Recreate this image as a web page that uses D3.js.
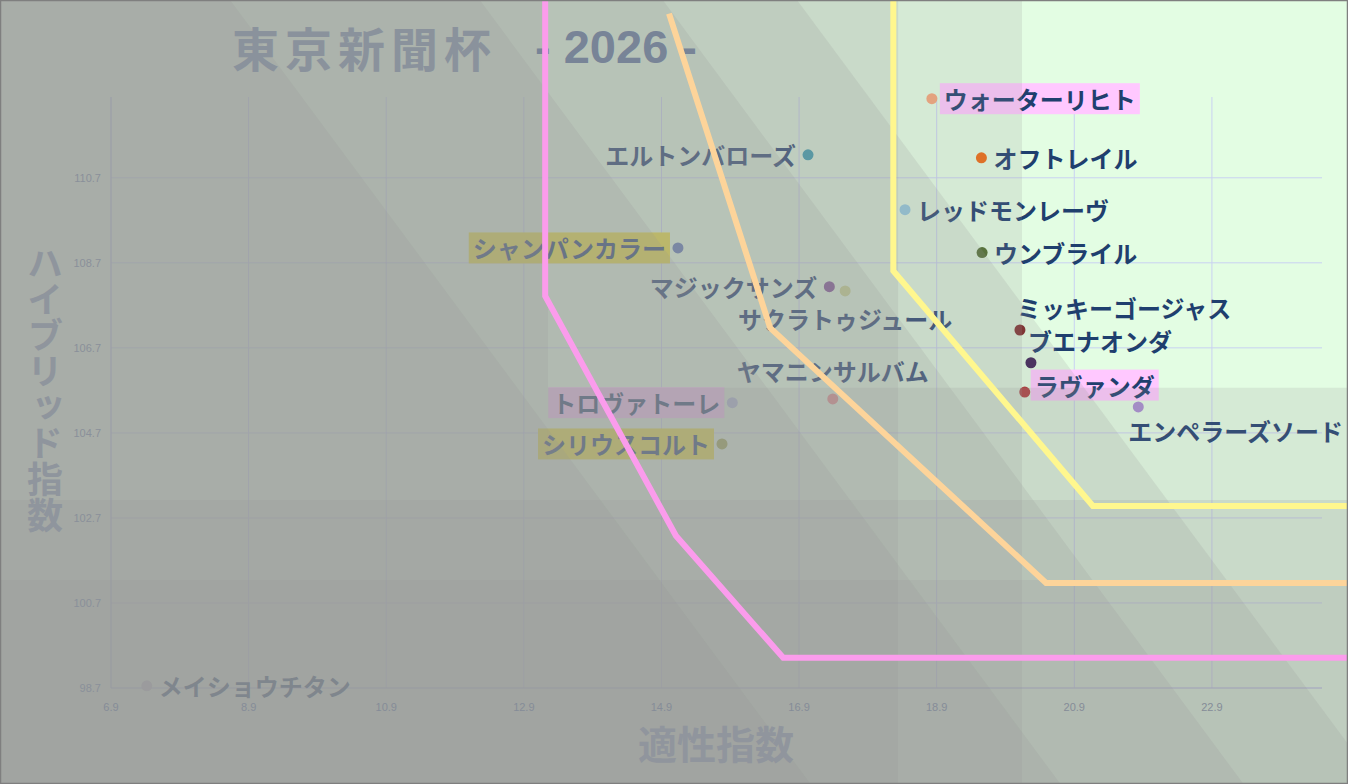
<!DOCTYPE html>
<html><head><meta charset="utf-8">
<script src="https://cdn.jsdelivr.net/npm/d3@7"></script>
<style>html,body{margin:0;padding:0;background:#fff;}svg{display:block;}</style>
</head><body>
<script>
// ---------- data ----------
const xTicks = [6.9, 8.9, 10.9, 12.9, 14.9, 16.9, 18.9, 20.9, 22.9];
const yTicks = [98.7, 100.7, 102.7, 104.7, 106.7, 108.7, 110.7];
const names = ["ウォーターリヒト","オフトレイル","エルトンバローズ","レッドモンレーヴ","ウンブライル","シャンパンカラー","マジックサンズ","サクラトゥジュール","ミッキーゴージャス","ブエナオンダ","ラヴァンダ","エンペラーズソード","ヤマニンサルバム","トロヴァトーレ","シリウスコルト","メイショウチタン"];
const aptitude = [18.83, 19.55, 17.03, 18.44, 19.56, 15.14, 17.34, 17.57, 20.11, 20.27, 20.18, 21.83, 17.39, 15.93, 15.78, 7.42];
const hybrid   = [112.56, 111.17, 111.24, 109.95, 108.94, 109.05, 108.14, 108.04, 107.12, 106.35, 105.66, 105.31, 105.50, 105.41, 104.44, 98.75];
const dotColors = ["#f5a77a","#ee6a10","#2b9bb0","#92cde3","#4b6b2a","#5b78b5","#7d4e94","#c8d890","#7b2020","#3b1f55","#b03030","#a78bd0","#e8908f","#b0bde0","#98a848","#c0c0c8"];
const labelSide = ["right","right","left","right","right","left","left","below","aboveR","aboveR","rightUp","belowR","above","left","left","right"];
const highlight = ["pink",null,null,null,null,"yellow",null,null,null,null,"pink",null,null,"pink","yellow",null];
// threshold lines
const pinkLine   = [[13.21,115.0],[13.21,107.92],[15.11,102.28],[16.67,99.41],[25.0,99.41]];
const orangeLine = [[15.01,114.56],[16.48,107.17],[20.49,101.17],[25.0,101.17]];
const yellowLine = [[18.27,115.0],[18.27,108.51],[21.17,102.98],[25.0,102.98]];
// background shading zones (data coordinates)
const X0 = 5.2, X1 = 25.0, Y0 = 96.3, Y1 = 115.0;
const shadeZones = [
  [[X0,Y1],[20.14,Y1],[20.14,Y0],[X0,Y0]],
  [[X0,Y1],[18.34,Y1],[18.34,Y0],[X0,Y0]],
  [[X0,Y1],[13.25,Y1],[13.25,Y0],[X0,Y0]],
  [[13.25,105.76],[X1,105.76],[X1,Y0],[13.25,Y0]],
  [[X0,103.12],[X1,103.12],[X1,Y0],[X0,Y0]],
  [[X0,101.24],[X1,101.24],[X1,Y0],[X0,Y0]],
  [[X0,Y1],[8.63,114.88],[17.07,96.44],[X0,Y0]],
  [[X0,Y1],[12.26,114.88],[20.70,96.44],[X0,Y0]],
  [[X0,Y1],[14.92,114.88],[23.36,96.44],[X0,Y0]],
  [[X0,Y1],[16.87,114.88],[25.31,96.44],[X0,Y0]]
];

// ---------- drawing ----------
const W = 1348, H = 784;
const svg = d3.select("body").append("svg").attr("width", W).attr("height", H);
const x = d3.scaleLinear().domain([6.9, 24.5]).range([111, 1322]);
const y = d3.scaleLinear().domain([98.7, 112.6]).range([688, 97]);

svg.append("rect").attr("width", W).attr("height", H).attr("fill", "#e3fde3");

// grid
const grid = svg.append("g");
grid.selectAll("line.v").data(xTicks).join("line")
  .attr("x1", d => x(d)).attr("x2", d => x(d)).attr("y1", y(112.6)).attr("y2", y(98.7))
  .attr("stroke", "#c9d1f2").attr("stroke-width", 1);
grid.selectAll("line.h").data(yTicks).join("line")
  .attr("x1", x(6.9)).attr("x2", x(24.5)).attr("y1", d => y(d)).attr("y2", d => y(d))
  .attr("stroke", "#c9d1f2").attr("stroke-width", 1);
svg.append("line").attr("x1", x(6.9)).attr("x2", x(6.9)).attr("y1", y(112.6)).attr("y2", y(98.7)).attr("stroke", "#b8c0dc");
svg.append("line").attr("x1", x(6.9)).attr("x2", x(24.5)).attr("y1", y(98.7)).attr("y2", y(98.7)).attr("stroke", "#b8c0dc");

// points + labels
const pts = names.map((n, i) => ({n, x: aptitude[i], y: hybrid[i], c: dotColors[i], side: labelSide[i], hl: highlight[i]}));
const lblG = svg.append("g");
const boxG = lblG.append("g");
const txtG = lblG.append("g");
pts.forEach(p => {
  const px = x(p.x), py = y(p.y);
  let tx = px + 12, ty = py, anchor = "start";
  if (p.side === "left") { tx = px - 12; anchor = "end"; }
  else if (p.side === "below") { tx = px; ty = py + 28; anchor = "middle"; }
  else if (p.side === "above") { tx = px; ty = py - 28; anchor = "middle"; }
  else if (p.side === "aboveR") { tx = px - 3; ty = py - 22; }
  else if (p.side === "belowR") { tx = px - 10; ty = py + 24; }
  else if (p.side === "rightUp") { tx = px + 10; ty = py - 7; }
  const t = txtG.append("text").attr("x", tx).attr("y", ty)
    .attr("text-anchor", anchor).attr("dominant-baseline", "central")
    .attr("font-family", "'Noto Sans CJK JP', sans-serif").attr("font-weight", "bold")
    .attr("font-size", 24).attr("fill", "#1f3f6e").text(p.n);
  if (p.hl) {
    const b = t.node().getBBox();
    boxG.append("rect").attr("x", b.x - 4).attr("y", b.y + 2).attr("width", b.width + 8).attr("height", b.height - 4)
      .attr("fill", p.hl === "pink" ? "#ffc8ff" : "#ece23a");
  }
});
svg.append("g").selectAll("circle").data(pts).join("circle")
  .attr("cx", d => x(d.x)).attr("cy", d => y(d.y)).attr("r", 5.5).attr("fill", d => d.c);

// shading overlays
svg.append("g").selectAll("path").data(shadeZones).join("path")
  .attr("d", d => "M" + d.map(q => x(q[0]) + "," + y(q[1])).join("L") + "Z")
  .attr("fill", "rgb(150,152,148)").attr("fill-opacity", 0.18);

// tick labels
svg.append("g").selectAll("text").data(xTicks).join("text")
  .attr("x", d => x(d)).attr("y", 707).attr("text-anchor", "middle").attr("dominant-baseline", "central")
  .attr("font-family", "'Liberation Sans Narrow', 'Liberation Sans', sans-serif").attr("font-size", 11)
  .attr("fill", "#858c98").text(d => d.toFixed(1));
svg.append("g").selectAll("text").data(yTicks).join("text")
  .attr("x", 101).attr("y", d => y(d)).attr("text-anchor", "end").attr("dominant-baseline", "central")
  .attr("font-family", "'Liberation Sans Narrow', 'Liberation Sans', sans-serif").attr("font-size", 11)
  .attr("fill", "#8a909a").text(d => d.toFixed(1));

// axis titles
svg.append("text").attr("x", 716).attr("y", 742).attr("text-anchor", "middle").attr("dominant-baseline", "central")
  .attr("font-family", "'Noto Sans CJK JP', sans-serif").attr("font-weight", "bold").attr("font-size", 39)
  .attr("fill", "#90959d").text("適性指数");
svg.append("text").attr("x", 45).attr("y", 245).attr("writing-mode", "vertical-rl")
  .attr("text-anchor", "start")
  .attr("font-family", "'Noto Sans CJK JP', sans-serif").attr("font-weight", "bold").attr("font-size", 36)
  .attr("fill", "#8f959d").text("ハイブリッド指数");

// title
const title = svg.append("text").attr("x", 232).attr("y", 46).attr("dominant-baseline", "central");
title.append("tspan").attr("font-family", "'Noto Sans CJK JP', sans-serif").attr("font-weight", "bold")
  .attr("font-size", 47).attr("letter-spacing", 6).attr("fill", "#8a929c").text("東京新聞杯");
title.append("tspan").attr("dx", 38).attr("font-family", "'Liberation Sans Narrow', 'Liberation Sans', sans-serif").attr("font-weight", "bold")
  .attr("font-size", 47).attr("fill", "#788497").text("- 2026 -");

// threshold lines
const line = d3.line().x(d => x(d[0])).y(d => y(d[1]));
[[pinkLine, "#fb9cec"], [orangeLine, "#fdd49a"], [yellowLine, "#fff78e"]].forEach(([data, col]) => {
  svg.append("path").attr("d", line(data)).attr("fill", "none").attr("stroke", col)
    .attr("stroke-width", 6).attr("stroke-linejoin", "miter");
});

svg.append("rect").attr("x", 0.5).attr("y", 0.5).attr("width", W - 1).attr("height", H - 1)
  .attr("fill", "none").attr("stroke", "#7f7f7f").attr("stroke-width", 1.5);
</script>
</body></html>
